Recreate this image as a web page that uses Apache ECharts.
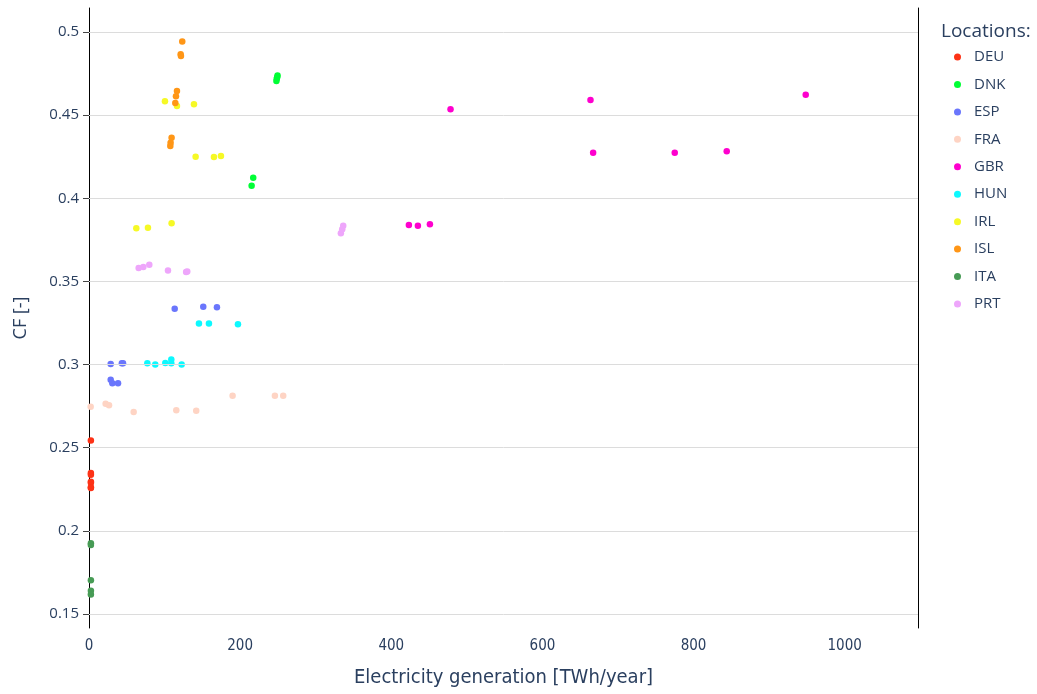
<!DOCTYPE html>
<html>
<head>
<meta charset="utf-8">
<script src="https://cdn.jsdelivr.net/npm/echarts@6/dist/echarts.min.js"></script>
<style>
  html, body { margin: 0; padding: 0; background: #fff; }
  #chart { width: 1037px; height: 694px; }
</style>
</head>
<body>
<div id="chart"></div>
<script>
// Capacity factor vs. electricity generation, one point per scenario, grouped by country
const locations = ['DEU', 'DNK', 'ESP', 'FRA', 'GBR', 'HUN', 'IRL', 'ISL', 'ITA', 'PRT'];
const colors = ['#FD3216', '#00FE35', '#6A76FC', '#FED4C4', '#FE00CE', '#0DF9FF', '#F6F926', '#FF9616', '#479B55', '#EEA6FB'];

const deu = [[2.5, 0.2543], [2.5, 0.2348], [2.5, 0.2338], [2.5, 0.2295], [2.5, 0.2290], [2.5, 0.2262], [2.5, 0.2258]];
const dnk = [[249.5, 0.4738], [249, 0.4728], [248.5, 0.4718], [248, 0.4705], [217.3, 0.4123], [215.2, 0.4075]];
const esp = [[113.4, 0.3335], [151.2, 0.3347], [169.3, 0.3345], [28.7, 0.3004], [43.5, 0.3008], [45, 0.3008], [28.7, 0.2908], [30.9, 0.2888], [38.4, 0.2888]];
const fra = [[2.2, 0.2746], [22, 0.2764], [26.5, 0.2756], [59.1, 0.2715], [115.5, 0.2726], [141.9, 0.2722], [190, 0.2812], [246, 0.2812], [257, 0.2812]];
const gbr = [[478.4, 0.4535], [663.6, 0.4591], [948.4, 0.4623], [667.1, 0.4274], [775.1, 0.4274], [843.9, 0.4282], [423.3, 0.3839], [435.2, 0.3835], [451.1, 0.3843]];
const hun = [[145.5, 0.3247], [158.7, 0.3247], [197.1, 0.3243], [77.2, 0.3008], [87.7, 0.3000], [101, 0.3010], [108.9, 0.3031], [108.9, 0.3008], [122.6, 0.3000]];
const irl = [[100.5, 0.4583], [116.4, 0.4555], [138.9, 0.4565], [141.1, 0.4250], [165.3, 0.4248], [174.6, 0.4254], [62.6, 0.3819], [78, 0.3823], [109.3, 0.3849]];
const isl = [[123.4, 0.4942], [121.3, 0.4866], [121.7, 0.4856], [116.4, 0.4645], [115.1, 0.4613], [114.2, 0.4573], [109.3, 0.4364], [108, 0.4334], [107.6, 0.4314]];
const ita = [[2.5, 0.1925], [2.5, 0.1915], [2.5, 0.1703], [2.5, 0.1640], [2.5, 0.1617]];
const prt = [[65.7, 0.3580], [71.9, 0.3586], [79.8, 0.3600], [104.5, 0.3566], [128.5, 0.3556], [130, 0.3560], [333.3, 0.3789], [335.1, 0.3813], [336.4, 0.3835]];

const xTicks = [0, 200, 400, 600, 800, 1000];
const yTicks = [0.15, 0.2, 0.25, 0.3, 0.35, 0.4, 0.45, 0.5];

const seriesData = [deu, dnk, esp, fra, gbr, hun, irl, isl, ita, prt];
const textColor = '#2a3f5f';
const xRange = [0, 1097];
const yRange = [0.1416, 0.5144];

const chart = echarts.init(document.getElementById('chart'), null, { renderer: 'canvas' });

const series = locations.map((name, i) => ({
  name: name,
  type: 'scatter',
  data: seriesData[i],
  symbol: 'circle',
  symbolSize: 6.5,
  itemStyle: { color: colors[i], opacity: 1 },
  z: 3
}));

// horizontal gridlines at the y tick values
series.unshift({
  name: 'grid',
  type: 'scatter',
  data: [],
  silent: true,
  z: 1,
  markLine: {
    silent: true,
    symbol: ['none', 'none'],
    label: { show: false },
    lineStyle: { color: '#dcdcdc', width: 1, type: 'solid' },
    emphasis: { disabled: true },
    animation: false,
    data: yTicks.map(v => ({ yAxis: v }))
  }
});

chart.setOption({
  animation: false,
  backgroundColor: '#ffffff',
  title: {
    text: 'Locations:',
    left: 936,
    top: 17,
    textStyle: { fontFamily: 'Open Sans', fontSize: 19, fontWeight: 'normal', color: textColor }
  },
  legend: {
    data: locations,
    orient: 'vertical',
    left: 949,
    top: 44,
    icon: 'circle',
    itemWidth: 7,
    itemHeight: 7,
    itemGap: 11.44,
    itemStyle: { opacity: 1 },
    textStyle: { fontFamily: 'Open Sans', fontSize: 15, color: textColor, lineHeight: 16, padding: [0, 0, 0, 8] }
  },
  grid: { left: 89, right: 119, top: 8, bottom: 66, containLabel: false },
  xAxis: {
    type: 'value',
    min: xRange[0],
    max: xRange[1],
    name: 'Electricity generation [TWh/year]',
    nameLocation: 'middle',
    nameGap: 40,
    nameTextStyle: { fontFamily: 'DejaVu Sans Condensed, Liberation Sans', fontSize: 20, color: textColor },
    axisLine: { show: false },
    axisTick: { show: false },
    splitLine: { show: false },
    axisLabel: {
      customValues: xTicks,
      margin: 11,
      fontFamily: 'DejaVu Sans Condensed, Liberation Sans',
      fontSize: 15,
      color: textColor,
      formatter: v => String(v)
    }
  },
  yAxis: [{
    type: 'value',
    min: yRange[0],
    max: yRange[1],
    name: 'CF [-]',
    nameLocation: 'middle',
    nameGap: 59,
    nameRotate: 90,
    nameTextStyle: { fontFamily: 'Open Sans', fontSize: 18, color: textColor },
    axisLine: { show: true, lineStyle: { color: '#000', width: 1 } },
    axisTick: { show: true, customValues: yTicks, length: 6, lineStyle: { color: '#444' } },
    splitLine: { show: false },
    axisLabel: {
      customValues: yTicks,
      margin: 10,
      fontFamily: 'Open Sans',
      fontSize: 15,
      color: textColor,
      formatter: v => String(v)
    }
  }, {
    type: 'value',
    position: 'right',
    min: yRange[0],
    max: yRange[1],
    axisLine: { show: true, onZero: false, lineStyle: { color: '#000', width: 1 } },
    axisTick: { show: false },
    axisLabel: { show: false },
    splitLine: { show: false }
  }],
  series: series
});
</script>
</body>
</html>
